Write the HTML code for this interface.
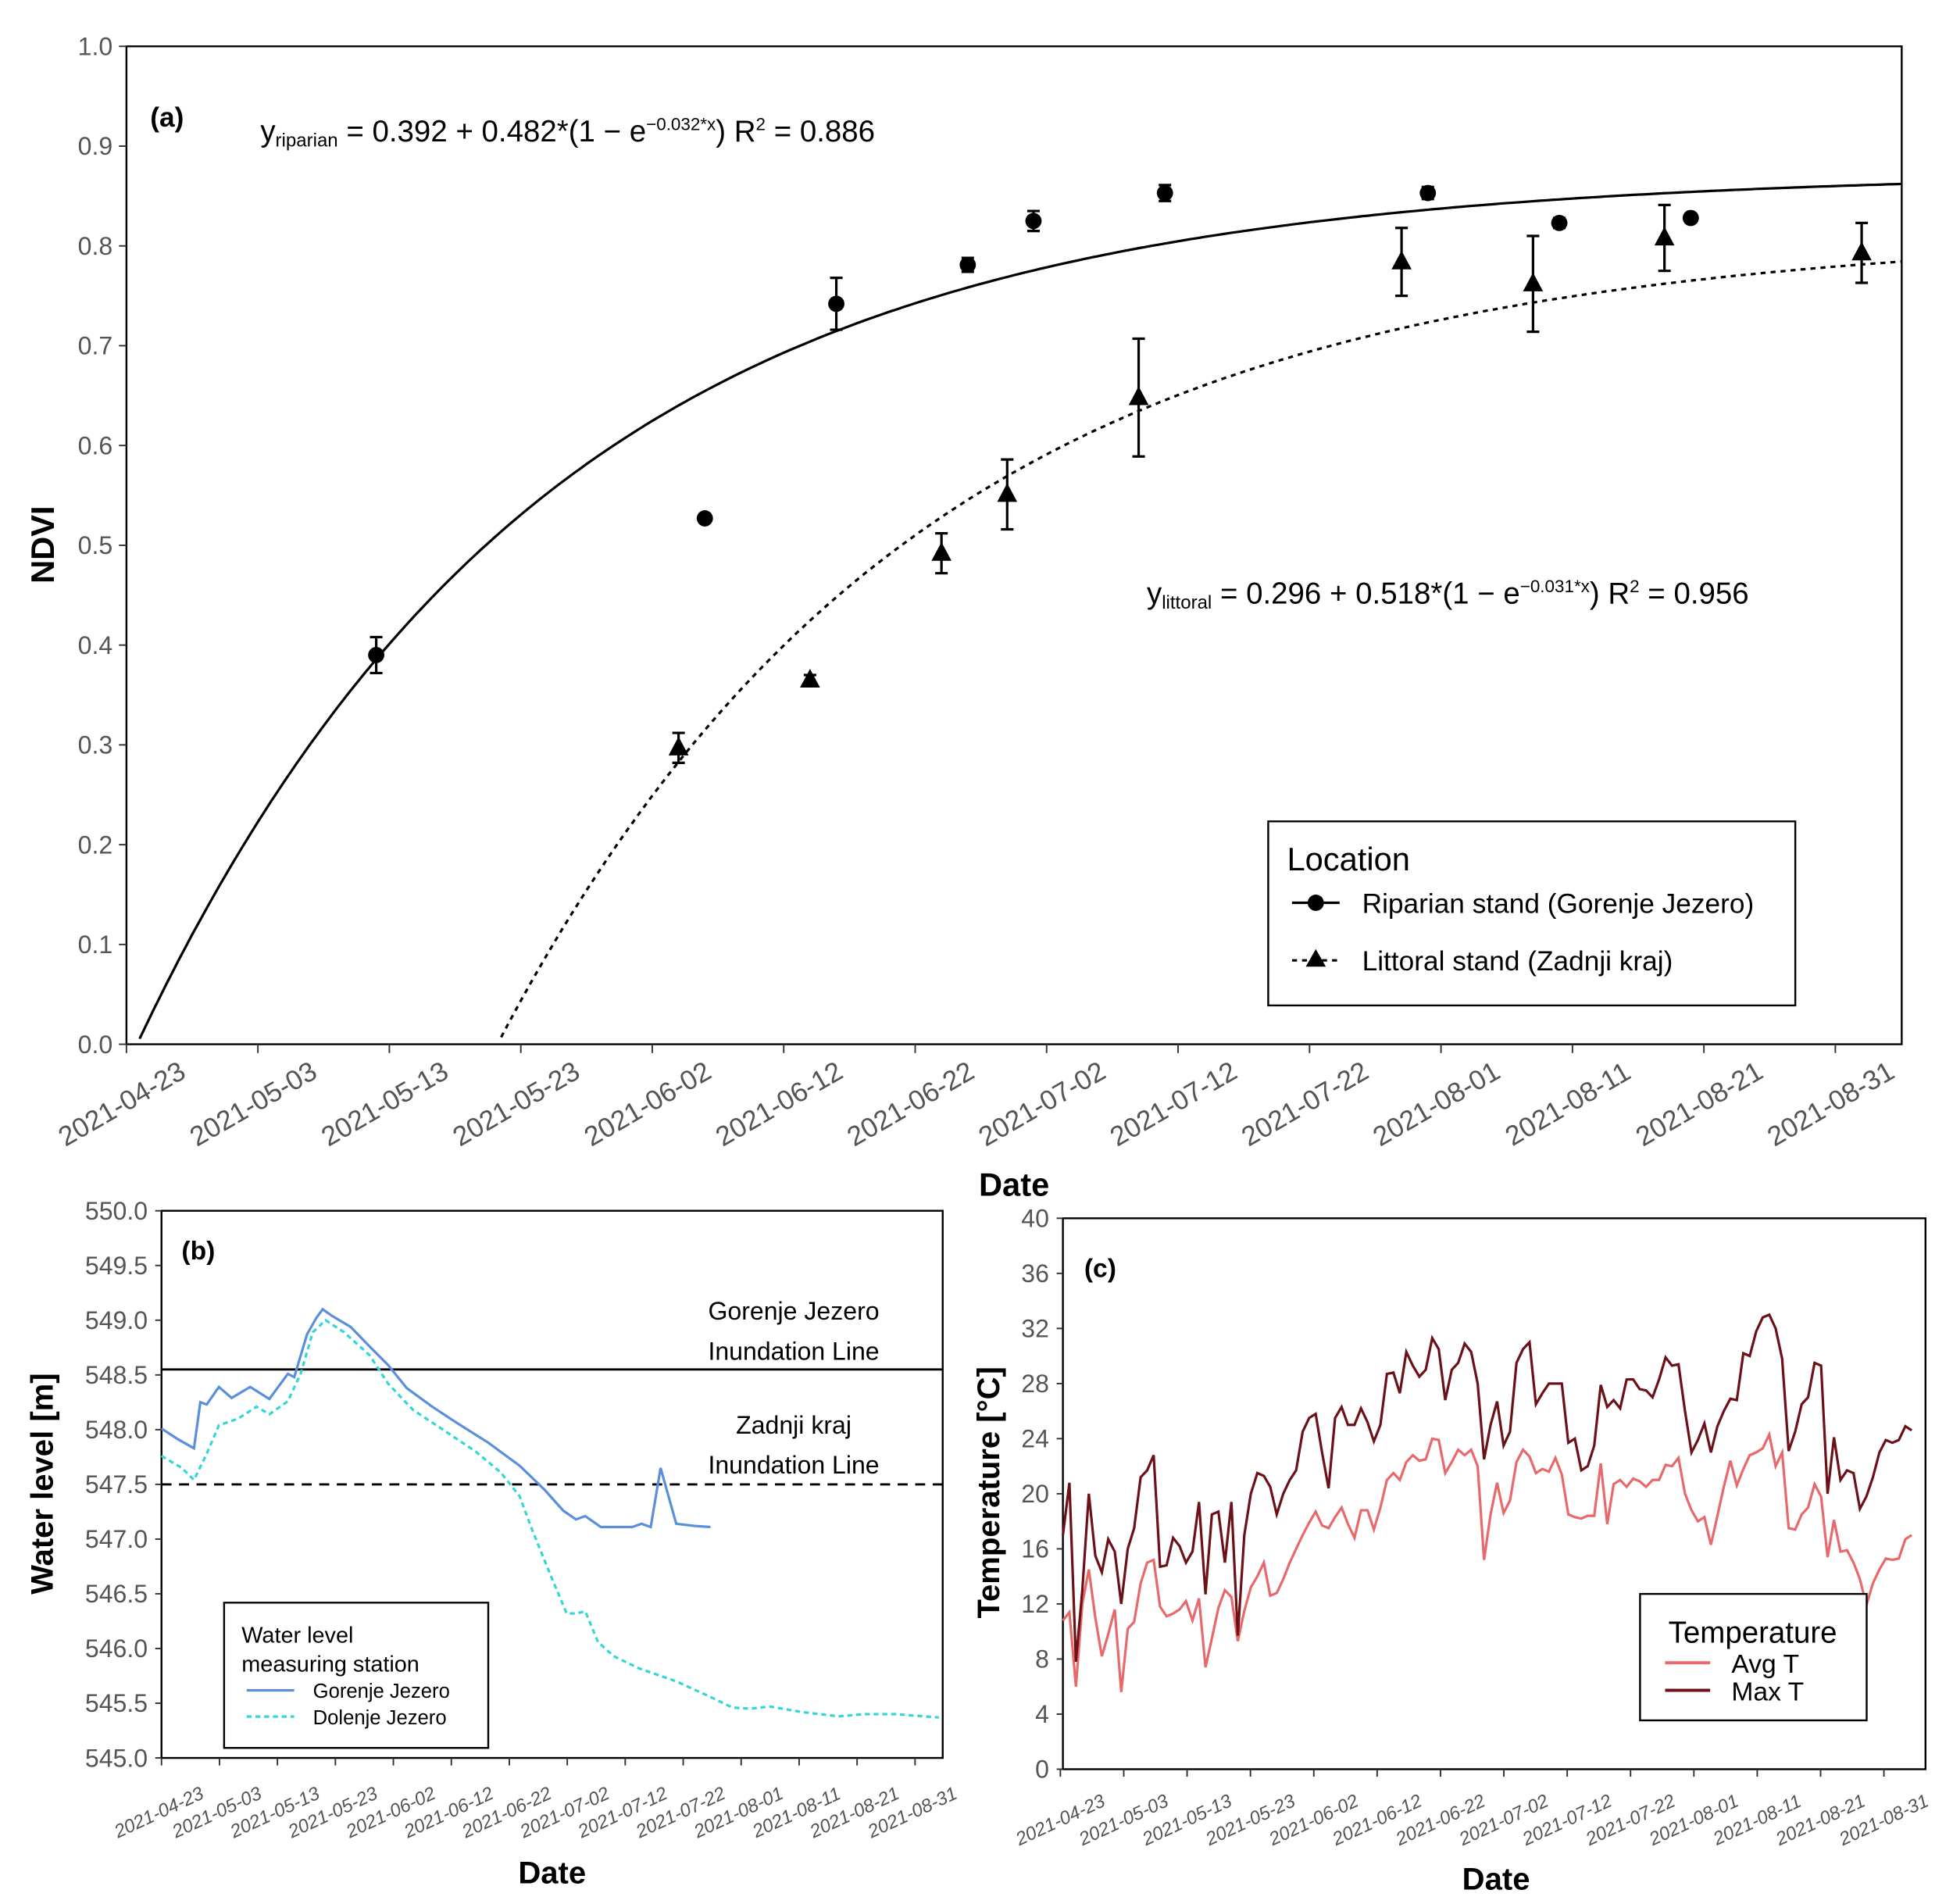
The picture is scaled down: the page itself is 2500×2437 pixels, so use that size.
<!DOCTYPE html>
<html><head><meta charset="utf-8"><style>
html,body{margin:0;padding:0;background:#fff;}
svg{display:block;}
text{font-family:"Liberation Sans",sans-serif;}
.narrow{font-family:"Liberation Sans Narrow","Liberation Sans",sans-serif;}
</style></head><body>
<svg id="fig" xmlns="http://www.w3.org/2000/svg" width="2500" height="2437" viewBox="0 0 2500 2437">
<rect width="2500" height="2437" fill="#fff"/>
<g id="root" transform="scale(1.6026)"></g>
</svg>
<script>
// ---- Panel (a) data ----
const tickDates = ["2021-04-23","2021-05-03","2021-05-13","2021-05-23","2021-06-02","2021-06-12","2021-06-22","2021-07-02","2021-07-12","2021-07-22","2021-08-01","2021-08-11","2021-08-21","2021-08-31"];
const ndviTicks = [0,0.1,0.2,0.3,0.4,0.5,0.6,0.7,0.8,0.9,1.0];
const ripDays = [19,44,54,64,69,79,99,109,119];
const ripVals = [0.39,0.527,0.742,0.781,0.825,0.853,0.853,0.823,0.828];
const ripErr = [0.018,0.004,0.026,0.007,0.01,0.008,0.006,0.005,0.001];
const litDays = [42,52,62,67,77,97,107,117,132];
const litVals = [0.297,0.365,0.492,0.551,0.648,0.784,0.762,0.808,0.793];
const litErr = [0.015,0.005,0.02,0.035,0.059,0.034,0.048,0.033,0.03];
const ripFit = [0.392,0.482,0.032,19.4];
const litFit = [0.296,0.518,0.031,42.8];
// ---- Panel (b) data ----
const wlTicks = [545.0,545.5,546.0,546.5,547.0,547.5,548.0,548.5,549.0,549.5,550.0];
const gorDays = [0,2.9,5.6,6.7,7.8,9.9,12.1,15.3,18.6,21.8,22.9,25.1,26.7,27.8,29.4,32.6,35.9,39.1,42.3,46.7,51,56.4,61.8,66.1,69.3,71.5,73.1,75.8,81.2,82.8,84.4,86.1,88.8,92,94.7];
const gorVals = [548.01,547.91,547.83,548.25,548.23,548.39,548.29,548.39,548.28,548.51,548.48,548.87,549.02,549.10,549.04,548.94,548.76,548.59,548.38,548.21,548.06,547.88,547.67,547.45,547.26,547.18,547.21,547.11,547.11,547.14,547.11,547.65,547.14,547.12,547.11];
const dolDays = [0,3.5,5.6,7.8,9.9,13.2,16.4,18.6,21.8,24,26.1,28.3,31.5,35.9,39.1,43.4,47.7,54.2,58.5,61.8,63.9,67.2,69.9,71.5,73.1,75.3,78,82.3,88.8,94.2,98.5,101.7,104.9,110.4,116.8,121.2,126.6,134.1];
const dolVals = [547.76,547.65,547.54,547.78,548.04,548.10,548.21,548.14,548.26,548.51,548.89,549.00,548.89,548.68,548.42,548.18,548.03,547.80,547.61,547.39,547.09,546.66,546.32,546.32,546.34,546.06,545.93,545.82,545.70,545.57,545.46,545.45,545.47,545.42,545.38,545.40,545.40,545.37];
const gorLine = [548.55];
const zadLine = [547.5];
// ---- Panel (c) data ----
const tTicks = [0,4,8,12,16,20,24,28,32,36,40];
const maxT = [17,20.8,7.8,13,20,15.5,14.3,16.7,15.8,12,16,17.5,21.2,21.7,22.8,14.7,14.8,16.8,16.2,15,15.8,19.4,12.7,18.5,18.7,15,19.4,9.7,17,20,21.5,21.3,20.5,18.5,20,21,21.7,24.5,25.5,25.8,23,20.4,25.5,26.3,25,25,26.2,25.2,23.8,25,28.7,28.8,27.3,30.3,29.3,28.5,29,31.3,30.5,26.8,29,29.5,30.9,30.3,28,22.5,25,26.7,23.5,24.5,29.5,30.5,31,26.5,27.3,28,28,28,23.7,24,21.7,22,23.5,27.9,26.3,26.8,26.2,28.3,28.3,27.6,27.5,27,28.3,29.9,29.3,29.4,26,23,23.9,25.1,23,24.9,26,26.9,26.8,30.2,30,31.8,32.8,33,32,29.8,23.1,24.5,26.5,27,29.5,29.3,20,24.1,21,21.7,21.5,18.9,19.8,21.2,23,23.9,23.7,23.9,24.9,24.6];
const avgT = [10.8,11.4,6,12,14.5,11,8.2,9.8,11.6,5.6,10.2,10.7,13.5,15,15.2,11.8,11.1,11.3,11.6,12.2,10.8,12.4,7.4,9.5,11.7,13,12.5,9.3,11.5,13.2,14,15,12.6,12.8,13.8,15,16,17,17.9,18.7,17.7,17.5,18.3,19,17.8,16.8,18.8,18.8,17.4,19,21,21.5,21,22.3,22.8,22.4,22.5,24,23.9,21.5,22.3,23.2,22.8,23.2,22,15.2,18.5,20.8,18.6,19.5,22.3,23.2,22.7,21.5,21.8,21.6,22.6,21.4,18.5,18.3,18.2,18.4,18.4,22.2,17.8,20.7,21,20.5,21.1,20.9,20.5,21,21,22.1,22,22.6,20,18.8,18,18.3,16.3,18.4,20.5,22.4,20.6,21.8,22.8,23,23.3,24.3,22,23,17.5,17.4,18.5,19,20.7,19.8,15.4,18.1,15.8,15.9,15,13.8,11.9,13.5,14.5,15.3,15.2,15.3,16.7,17];

const NS="http://www.w3.org/2000/svg";
const root=document.getElementById('root');
function mk(tag,attrs,parent,txt){const e=document.createElementNS(NS,tag);for(const k in attrs)e.setAttribute(k,attrs[k]);if(txt!==undefined)e.textContent=txt;(parent||root).appendChild(e);return e;}
function grp(name){const g=mk('g',{});


return g;}

// ===== Panel (a) =====
const xA=d=>101+d*10.5, yA=v=>834-v*797;
const pa=grp('panel-a-ndvi');
const fa=mk('rect',{x:101,y:37,width:1418,height:797,fill:'none',stroke:'#000','stroke-width':1.5},pa);


ndviTicks.forEach(v=>{
 mk('line',{x1:95,x2:101,y1:yA(v),y2:yA(v),stroke:'#333','stroke-width':1.2},pa);
 const t=mk('text',{x:90,y:yA(v)+7,'text-anchor':'end','font-size':20,fill:'#555'},pa,v.toFixed(1));
 
 
});
tickDates.forEach((s,i)=>{const x=xA(i*10);
 mk('line',{x1:x,x2:x,y1:834,y2:841,stroke:'#333','stroke-width':1.2},pa);
 const t=mk('text',{x:0,y:0,'text-anchor':'middle','font-size':22,fill:'#555',transform:`translate(${x},${888}) rotate(-30)`},pa,s);
 
 
});
const ta=mk('text',{x:0,y:0,'text-anchor':'middle','font-size':26,'font-weight':'bold',transform:'translate(43,435) rotate(-90)'},pa,'NDVI');


const xt=mk('text',{x:810,y:955,'text-anchor':'middle','font-size':26,'font-weight':'bold',class:'narrow'},pa,'Date');


const la=mk('text',{x:120,y:101,'font-size':22,'font-weight':'bold',class:'narrow'},pa,'(a)');


function fitPath(p,start){let d='';for(let day=start;day<=135;day+=0.5){const v=p[0]+p[1]*(1-Math.exp(-p[2]*(day-p[3])));if(v<0)continue;d+=(d?'L':'M')+xA(day).toFixed(1)+','+yA(v).toFixed(1);}return d;}
const rc=mk('path',{d:fitPath(ripFit,1),fill:'none',stroke:'#000','stroke-width':2},pa);


const lc=mk('path',{d:fitPath(litFit,1),fill:'none',stroke:'#000','stroke-width':2,'stroke-dasharray':'4,4'},pa);


function errbar(x,v,e,g){const y1=yA(v+e),y2=yA(v-e);
 mk('line',{x1:x,x2:x,y1:y1,y2:y2,stroke:'#000','stroke-width':2},g);
 mk('line',{x1:x-5,x2:x+5,y1:y1,y2:y1,stroke:'#000','stroke-width':2},g);
 mk('line',{x1:x-5,x2:x+5,y1:y2,y2:y2,stroke:'#000','stroke-width':2},g);}
ripDays.forEach((d,i)=>{const x=xA(d),y=yA(ripVals[i]);
 const g=mk('g',{},pa);
 
 
 errbar(x,ripVals[i],ripErr[i],g);
 mk('circle',{cx:x,cy:y,r:6.5,fill:'#000'},g);});
litDays.forEach((d,i)=>{const x=xA(d),y=yA(litVals[i]);
 const g=mk('g',{},pa);
 
 
 errbar(x,litVals[i],litErr[i],g);
 mk('path',{d:`M${x},${y-9}L${x+8},${y+6}L${x-8},${y+6}Z`,fill:'#000'},g);});
const e1=mk('text',{x:208,y:113,'font-size':24,class:'narrow'},pa);


e1.innerHTML='y<tspan font-size="15" dy="4">riparian</tspan><tspan dy="-4"> = 0.392 + 0.482*(1 − e</tspan><tspan font-size="14" dy="-9">−0.032*x</tspan><tspan dy="9">) R</tspan><tspan font-size="14" dy="-9">2</tspan><tspan dy="9"> = 0.886</tspan>';
const e2=mk('text',{x:916,y:482,'font-size':24,class:'narrow'},pa);


e2.innerHTML='y<tspan font-size="15" dy="4">littoral</tspan><tspan dy="-4"> = 0.296 + 0.518*(1 − e</tspan><tspan font-size="14" dy="-9">−0.031*x</tspan><tspan dy="9">) R</tspan><tspan font-size="14" dy="-9">2</tspan><tspan dy="9"> = 0.956</tspan>';
const lg=mk('g',{},pa);


mk('rect',{x:1013,y:656,width:421,height:147,fill:'#fff',stroke:'#000','stroke-width':1.5},lg);
mk('text',{x:1028,y:695,'font-size':26,class:'narrow'},lg,'Location');
mk('line',{x1:1032,x2:1070,y1:721,y2:721,stroke:'#000','stroke-width':2},lg);
mk('circle',{cx:1051,cy:721,r:6.5,fill:'#000'},lg);
const le1=mk('text',{x:1088,y:729,'font-size':22,class:'narrow'},lg,'Riparian stand (Gorenje Jezero)');


mk('line',{x1:1032,x2:1070,y1:767,y2:767,stroke:'#000','stroke-width':2,'stroke-dasharray':'4,4'},lg);
mk('path',{d:'M1051,758L1059,772L1043,772Z',fill:'#000'},lg);
const le2=mk('text',{x:1088,y:775,'font-size':22,class:'narrow'},lg,'Littoral stand (Zadnji kraj)');



// ===== Panel (b) =====
const xB=d=>129+d*4.63, yB=v=>1404-(v-545)*87.4;
const pb=grp('panel-b-water-level');
const fb=mk('rect',{x:129,y:967,width:624,height:437,fill:'none',stroke:'#000','stroke-width':1.5},pb);


wlTicks.forEach(v=>{
 mk('line',{x1:124,x2:129,y1:yB(v),y2:yB(v),stroke:'#333','stroke-width':1.2},pb);
 const t=mk('text',{x:118,y:yB(v)+7,'text-anchor':'end','font-size':20,fill:'#555'},pb,v.toFixed(1));
 
 
});
tickDates.forEach((s,i)=>{const x=xB(i*10);
 mk('line',{x1:x,x2:x,y1:1404,y2:1410,stroke:'#333','stroke-width':1.2},pb);
 const t=mk('text',{x:0,y:0,'text-anchor':'middle','font-size':15,'font-style':'italic',fill:'#555',transform:`translate(${x},${1452}) rotate(-25)`},pb,s);
 
 
});
const tb=mk('text',{x:0,y:0,'text-anchor':'middle','font-size':25,'font-weight':'bold',transform:'translate(42,1185) rotate(-90)'},pb,'Water level [m]');


const xb=mk('text',{x:441,y:1504,'text-anchor':'middle','font-size':25,'font-weight':'bold'},pb,'Date');


const lb=mk('text',{x:145,y:1006,'font-size':21,'font-weight':'bold',class:'narrow'},pb,'(b)');


const gl=mk('line',{x1:129,x2:753,y1:yB(gorLine[0]),y2:yB(gorLine[0]),stroke:'#000','stroke-width':1.8},pb);


const zl=mk('line',{x1:129,x2:753,y1:yB(zadLine[0]),y2:yB(zadLine[0]),stroke:'#000','stroke-width':1.8,'stroke-dasharray':'8,6'},pb);


[['Gorenje Jezero',1054],['Inundation Line',1086],['Zadnji kraj',1145],['Inundation Line',1177]].forEach(a=>{
 const t=mk('text',{x:634,y:a[1],'text-anchor':'middle','font-size':20,class:'narrow'},pb,a[0]);
 
 });
const gp=mk('path',{d:gorDays.map((d,i)=>(i?'L':'M')+xB(d)+','+yB(gorVals[i])).join(''),fill:'none',stroke:'#5B8FDB','stroke-width':2},pb);


const dp=mk('path',{d:dolDays.map((d,i)=>(i?'L':'M')+xB(d)+','+yB(dolVals[i])).join(''),fill:'none',stroke:'#35D6D6','stroke-width':2,'stroke-dasharray':'4,3'},pb);


const lgb=mk('g',{},pb);


mk('rect',{x:179,y:1280,width:211,height:116,fill:'#fff',stroke:'#000','stroke-width':1.5},lgb);
mk('text',{x:193,y:1312,'font-size':18,class:'narrow'},lgb,'Water level');
mk('text',{x:193,y:1335,'font-size':18,class:'narrow'},lgb,'measuring station');
mk('line',{x1:197,x2:235,y1:1350,y2:1350,stroke:'#5B8FDB','stroke-width':2},lgb);
mk('text',{x:250,y:1356,'font-size':16},lgb,'Gorenje Jezero');
mk('line',{x1:197,x2:235,y1:1371,y2:1371,stroke:'#35D6D6','stroke-width':2,'stroke-dasharray':'4,3'},lgb);
mk('text',{x:250,y:1377,'font-size':16},lgb,'Dolenje Jezero');

// ===== Panel (c) =====
const xC=d=>849+d*5.06, yC=v=>1413-v*11;
const pc=grp('panel-c-temperature');
const fc=mk('rect',{x:849,y:973,width:689,height:440,fill:'none',stroke:'#000','stroke-width':1.5},pc);


tTicks.forEach(v=>{
 mk('line',{x1:844,x2:849,y1:yC(v),y2:yC(v),stroke:'#333','stroke-width':1.2},pc);
 const t=mk('text',{x:838,y:yC(v)+7,'text-anchor':'end','font-size':20,fill:'#555'},pc,String(v));
 
 
});
tickDates.forEach((s,i)=>{const x=xC(i*10)-2;
 mk('line',{x1:x,x2:x,y1:1413,y2:1419,stroke:'#333','stroke-width':1.2},pc);
 const t=mk('text',{x:0,y:0,'text-anchor':'middle','font-size':15,'font-style':'italic',fill:'#555',transform:`translate(${x+2},${1458}) rotate(-25)`},pc,s);
 
 
});
const tc=mk('text',{x:0,y:0,'text-anchor':'middle','font-size':25,'font-weight':'bold',transform:'translate(798,1192) rotate(-90)'},pc,'Temperature [°C]');


const xc=mk('text',{x:1195,y:1509,'text-anchor':'middle','font-size':25,'font-weight':'bold'},pc,'Date');


const lcL=mk('text',{x:866,y:1020,'font-size':21,'font-weight':'bold',class:'narrow'},pc,'(c)');


const ap=mk('path',{d:avgT.map((v,i)=>(i?'L':'M')+xC(i*(134/(avgT.length-1))).toFixed(1)+','+yC(v).toFixed(1)).join(''),fill:'none',stroke:'#E8696B','stroke-width':2},pc);


const mp=mk('path',{d:maxT.map((v,i)=>(i?'L':'M')+xC(i*(134/(maxT.length-1))).toFixed(1)+','+yC(v).toFixed(1)).join(''),fill:'none',stroke:'#6B1117','stroke-width':2},pc);


const lgc=mk('g',{},pc);


mk('rect',{x:1310,y:1273,width:181,height:101,fill:'#fff',stroke:'#000','stroke-width':1.5},lgc);
mk('text',{x:1400,y:1312,'text-anchor':'middle','font-size':24},lgc,'Temperature');
mk('line',{x1:1330,x2:1366,y1:1328,y2:1328,stroke:'#E8696B','stroke-width':2.5},lgc);
mk('text',{x:1383,y:1336,'font-size':21},lgc,'Avg T');
mk('line',{x1:1330,x2:1366,y1:1350,y2:1350,stroke:'#6B1117','stroke-width':2.5},lgc);
mk('text',{x:1383,y:1358,'font-size':21},lgc,'Max T');
</script>
</body></html>
